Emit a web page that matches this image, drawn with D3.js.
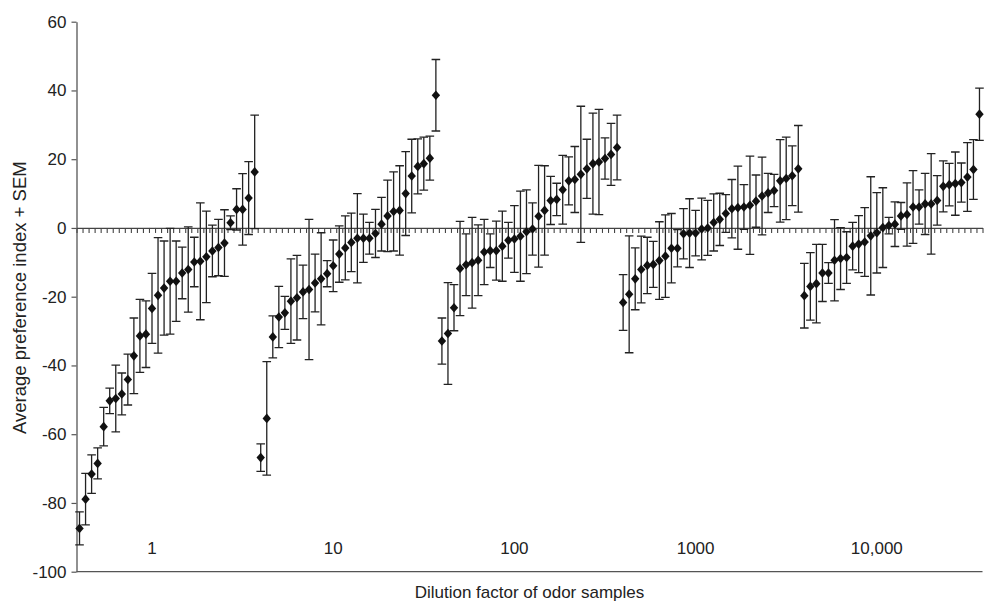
<!DOCTYPE html>
<html>
<head>
<meta charset="utf-8">
<script src="https://cdn.jsdelivr.net/npm/d3@7"></script>
<style>
  html, body { margin: 0; padding: 0; background: #fff; }
  svg { display: block; }
  text { font-family: "Liberation Sans", Arial, sans-serif; fill: #222; }
</style>
</head>
<body>
<svg id="chart" width="986" height="605"></svg>
<script>
// ---- data ----
const groupLabels = ["1", "10", "100", "1000", "10,000"];
const yTicks = [-100, -80, -60, -40, -20, 0, 20, 40, 60];

const mean1 = [-87.4, -78.9, -71.6, -68.5, -57.8, -50.3, -49.6, -48.3, -44.1, -37.2, -31.4, -30.9, -23.4, -19.6, -17.5, -15.5, -15.5, -13.1, -12.1, -9.9, -9.7, -8.4, -6.7, -5.7, -4.4, 1.5, 5.4, 5.4, 8.7, 16.3];
const sem1  = [4.8, 7.5, 5.6, 4.5, 5.6, 3.7, 9.7, 6.1, 7.4, 11, 10.6, 9.7, 10.2, 16.8, 13.7, 15.4, 11.7, 7.5, 12.4, 7.2, 17, 13.3, 7.5, 8.2, 9.7, 2, 6, 10.4, 10.6, 16.5];

const mean2 = [-66.8, -55.4, -31.7, -25.9, -24.7, -21.3, -20.3, -18.6, -17.9, -16, -14.8, -13.3, -11, -7.6, -5.8, -4.2, -3, -3, -3, -1.6, 1.1, 3.5, 4.8, 5.1, 10, 15.1, 17.9, 18.7, 20.3, 38.6];
const sem2  = [4, 16.5, 6.1, 8.9, 4.8, 12.3, 12.3, 7.8, 20.4, 8.4, 13.4, 3.8, 7.5, 8.2, 9.3, 8.5, 13, 7, 4.6, 7, 7.8, 10.4, 11.5, 13, 12.2, 10.7, 8, 7.7, 6.4, 10.4];

const mean3 = [-32.9, -30.7, -23.2, -11.8, -10.7, -10.1, -9.4, -7, -6.6, -6.6, -5.3, -3.6, -3.2, -2.4, -1.1, -0.3, 3.4, 5.1, 8, 8.3, 11.1, 13.7, 14.1, 15.6, 17.2, 18.7, 19.2, 20.2, 21.4, 23.4];
const sem3  = [6.7, 14.8, 6.7, 13.7, 9, 13.2, 10.3, 9.5, 4.9, 8.6, 10.2, 5.2, 9.7, 13.1, 12.2, 7.6, 14.8, 13, 7, 4.7, 10, 7, 9.6, 19.8, 8.6, 14.7, 15.3, 6, 9, 9.4];

const mean4 = [-21.7, -19.3, -14.8, -12.1, -10.9, -10.6, -9.5, -8.2, -5.9, -5.9, -1.7, -1.5, -1.5, -0.3, 0, 1.6, 2.5, 4.2, 5.6, 5.9, 6.1, 6.6, 7.8, 9.3, 10.2, 10.9, 13.7, 14.4, 15.2, 17.2];
const sem4  = [8.1, 17, 9, 9.7, 8.2, 6.7, 11.3, 12, 10.1, 5.4, 7.3, 10, 6.6, 9, 8, 8.3, 7.6, 5.5, 8.5, 12.1, 6.5, 14.3, 7.6, 11.3, 5.7, 4.7, 12, 12, 8.7, 12.6];

const mean5 = [-19.7, -17, -16.2, -13.1, -13.1, -9.4, -8.9, -8.6, -5.3, -4.7, -4.1, -2.3, -1.4, 0.1, 0.7, 1.1, 3.5, 3.9, 6.1, 6.1, 7, 7, 8, 12.1, 12.6, 12.9, 13.2, 14.8, 17, 33.1];
const sem5  = [9.4, 9.8, 11.4, 8.3, 3, 11.8, 9, 7.5, 6.9, 8.3, 10, 17.2, 11.7, 11.6, 2.4, 6.5, 3.9, 9.2, 10.6, 5, 8.9, 14.6, 7.2, 7.4, 6.2, 9.2, 5.7, 10, 8.7, 7.6];

const xTitle = "Dilution factor of odor samples";
const yTitle = "Average preference index + SEM";

// ---- build rows ----
const means = [mean1, mean2, mean3, mean4, mean5];
const sems = [sem1, sem2, sem3, sem4, sem5];
const rows = [];
means.forEach((arr, g) => arr.forEach((m, i) => rows.push({ g, i, m, s: sems[g][i] })));
rows.forEach((r, k) => r.k = k);
const perGroup = mean1.length;

// ---- layout ----
const svg = d3.select("#chart");
const plotL = 76.5, plotR = 982.5, plotT = 21.7, plotB = 571.7;

const x = d3.scaleBand().domain(d3.range(rows.length)).range([plotL, plotR]).padding(0);
const xEdge = d3.scaleLinear().domain([0, rows.length]).range([plotL, plotR]);
const y = d3.scaleLinear().domain([-100, 60]).range([plotB, plotT]);
const cx = k => x(k) + x.bandwidth() / 2;

// y axis
const yAxis = svg.append("g")
  .attr("transform", `translate(${plotL},0)`)
  .call(d3.axisLeft(y).tickValues(yTicks).tickFormat(d => String(d)).tickSize(5).tickSizeOuter(0).tickPadding(5));
yAxis.select(".domain").attr("stroke", "#555").attr("stroke-width", 1.3);
yAxis.selectAll(".tick line").attr("stroke", "#555").attr("stroke-width", 1.2);
yAxis.selectAll(".tick text")
  .style("font-family", '"Liberation Sans", Arial, sans-serif')
  .style("font-size", "17px").attr("fill", "#222");

// bottom frame line at -100
svg.append("line")
  .attr("x1", plotL).attr("x2", plotR)
  .attr("y1", y(-100)).attr("y2", y(-100))
  .attr("stroke", "#555").attr("stroke-width", 1.3);

// x axis at zero with ticks at slot boundaries
const xAxis = svg.append("g")
  .attr("transform", `translate(0,${y(0)})`)
  .call(d3.axisBottom(xEdge).tickValues(d3.range(rows.length + 1)).tickSize(5).tickSizeOuter(0).tickFormat(""));
xAxis.select(".domain").attr("stroke", "#444").attr("stroke-width", 1.3);
xAxis.selectAll(".tick line").attr("stroke", "#444").attr("stroke-width", 1.1);

// error bars
const capW = 4.3;
const eb = svg.append("g").attr("stroke", "#222").attr("stroke-width", 1.3).attr("fill", "none");
eb.selectAll("path").data(rows).join("path")
  .attr("d", d => {
    const c = cx(d.k), y1 = y(d.m + d.s), y2 = y(d.m - d.s);
    return `M${c},${y1}V${y2}M${c - capW},${y1}H${c + capW}M${c - capW},${y2}H${c + capW}`;
  });

// diamond markers
const hw = 4.2, hh = 4.8;
svg.append("g").selectAll("path").data(rows).join("path")
  .attr("fill", "#111")
  .attr("d", d => {
    const c = cx(d.k), v = y(d.m);
    return `M${c},${v - hh}L${c + hw},${v}L${c},${v + hh}L${c - hw},${v}Z`;
  });

// group labels
svg.append("g").selectAll("text").data(groupLabels).join("text")
  .attr("x", (d, g) => cx(g * perGroup + 12))
  .attr("y", 554)
  .attr("text-anchor", "middle")
  .style("font-size", "17px")
  .text(d => d);

// axis titles
svg.append("text")
  .attr("x", (plotL + plotR) / 2).attr("y", 598)
  .attr("text-anchor", "middle")
  .style("font-size", "17px")
  .text(xTitle);

svg.append("text")
  .attr("transform", `translate(26,${(plotT + plotB) / 2 + 1}) rotate(-90)`)
  .attr("text-anchor", "middle")
  .style("font-size", "18.5px")
  .text(yTitle);
</script>
</body>
</html>
